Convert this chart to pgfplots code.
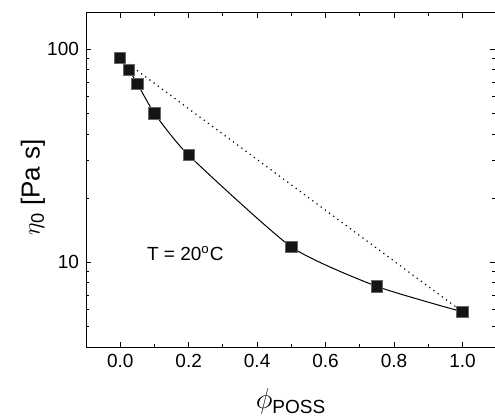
\documentclass[border=0pt]{standalone}
\usepackage{amsmath}
\usepackage{fontspec}
\setmainfont{Liberation Sans}
\usepackage{pgfplots}
\pgfplotsset{compat=1.18}
\begin{document}
\begin{tikzpicture}
\begin{axis}[
  scale only axis,
  width=204.5pt, height=167pt,
  xmode=normal, ymode=log,
  xmin=-0.1, xmax=1.095,
  ymin=4, ymax=148,
  xtick={0,0.2,...,1.0},
  minor xtick={0.1,0.3,0.5,0.7,0.9},
  ytick={10,100},
  yticklabels={10,100},
  minor ytick={5,6,7,8,9,20,30,40,50,60,70,80,90},
  xticklabel style={/pgf/number format/fixed,/pgf/number format/fixed zerofill,/pgf/number format/precision=1},
  /pgf/number format/assume math mode=true,
  tick label style={font=\fontsize{9.5}{11}\selectfont},
  tick align=inside,
  major tick length=2.6pt,
  minor tick length=1.5pt,
  axis line style={line width=0.5pt},
  every tick/.style={line width=0.5pt,black},
  xlabel={\fontsize{13.5}{15}\selectfont $\phi$\raisebox{-0.4ex}{\fontsize{9.5}{11}\selectfont POSS}},
  ylabel={\fontsize{13}{15}\selectfont $\eta_{\text{0}}$ [Pa s]},
  xlabel style={at={(axis description cs:0.5,0)},anchor=north,yshift=-17pt},
  ylabel style={at={(axis description cs:0,0.478)},anchor=south,yshift=17pt},
]
\addplot[black, line width=0.5pt, smooth, tension=0.35] coordinates {
 (0,91) (0.025,80) (0.05,69) (0.1,50) (0.2,31.8) (0.5,11.8) (0.75,7.7) (1.0,5.85)
};
\addplot[black, dotted, line width=0.6pt] coordinates {(0,91) (1.0,5.85)};
\addplot[only marks, mark=square*, mark size=2.8pt, mark options={fill=black!92, draw=black!60, line width=0.4pt}] coordinates {
 (0,91) (0.025,80) (0.05,69) (0.1,50) (0.2,31.8) (0.5,11.8) (0.75,7.7) (1.0,5.85)
};
\node[font=\fontsize{9.5}{11}\selectfont] at (axis cs:0.19,11.0) {T = 20$^{\text{o}}$C};
\end{axis}
\pgfresetboundingbox
\useasboundingbox ([xshift=-43pt,yshift=-35pt]current axis.south west) rectangle ([yshift=6.5pt]current axis.north east);
\end{tikzpicture}
\end{document}
